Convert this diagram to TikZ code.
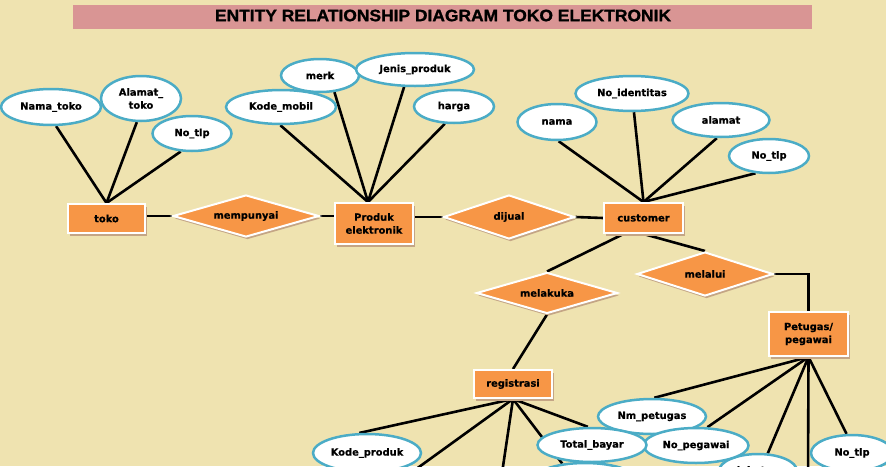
\documentclass[tikz,border=0pt]{standalone}
\usepackage{fontspec}
\setmainfont{DejaVu Sans}[BoldFeatures={FakeBold=0.6}]
\newfontfamily\titlefont{Liberation Sans}[BoldFeatures={FakeBold=1.2}]
\usetikzlibrary{shapes.geometric,shadows,backgrounds}
\definecolor{bgc}{HTML}{EFE3B0}
\definecolor{titlec}{HTML}{D99594}
\definecolor{orangec}{HTML}{F79646}
\definecolor{bluec}{HTML}{4BACC6}
\definecolor{shadc}{HTML}{C4A585}
\begin{document}
\begin{tikzpicture}[x=1pt,y=-1pt,
  lbl/.style={font=\fontsize{9.9pt}{13pt}\selectfont\bfseries, text=black, align=center},
  attr/.style={lbl, ellipse, draw=bluec, line width=2.5pt, fill=white, inner sep=0pt},
  ent/.style={lbl, rectangle, draw=white, line width=2pt, fill=orangec, inner sep=0pt,
    general shadow={fill=shadc, shadow xshift=1.5pt, shadow yshift=-2.5pt}},
  rel/.style={lbl, diamond, aspect=3, draw=white, line width=2pt, fill=orangec, inner sep=0pt,
    general shadow={fill=shadc, shadow xshift=1.5pt, shadow yshift=-2.5pt}},
  conn/.style={draw=black, line width=2.6pt}]
\useasboundingbox (0,0) rectangle (886,466);

% title
\node[fill=titlec, minimum width=739pt, minimum height=24pt, inner sep=0pt] (titlebar) at (442.5,17) {};
\node[inner sep=0pt] (title) at (443,15.5) {\resizebox{456pt}{11.5pt}{\titlefont\bfseries ENTITY RELATIONSHIP DIAGRAM TOKO ELEKTRONIK}};

% entities
\node[ent, minimum width=77pt, minimum height=29pt] (toko) at (106.5,218.5) {toko};
\node[ent, minimum width=78pt, minimum height=41pt] (produk) at (374,223.5) {Produk\\elektronik};
\node[ent, minimum width=79pt, minimum height=30pt] (customer) at (643.5,218) {customer};
\node[ent, minimum width=78pt, minimum height=28pt] (registrasi) at (513,384) {registrasi};
\node[ent, minimum width=79pt, minimum height=44pt] (petugas) at (808.5,334) {Petugas/\\pegawai};

% relationships
\node[rel, minimum width=146pt, minimum height=42pt] (mempunyai) at (246,216) {mempunyai};
\node[rel, minimum width=131pt, minimum height=44pt] (dijual) at (509,217) {dijual};
\node[rel, minimum width=136pt, minimum height=44pt] (melalui) at (705,274) {melalui};
\node[rel, minimum width=141pt, minimum height=41pt] (melakuka) at (547,293) {melakuka};

% attributes
\node[attr, minimum width=100pt, minimum height=36pt] (namatoko) at (51,107) {Nama\_toko};
\node[attr, minimum width=80pt, minimum height=45pt] (alamattoko) at (141,98.5) {Alamat\_\\toko};
\node[attr, minimum width=79pt, minimum height=35pt] (notlpa) at (192,133.5) {No\_tlp};
\node[attr, minimum width=78pt, minimum height=33pt] (merk) at (320,75.5) {merk};
\node[attr, minimum width=118pt, minimum height=33pt] (jenis) at (415,69.5) {Jenis\_produk};
\node[attr, minimum width=110pt, minimum height=34pt] (kodemobil) at (281,107) {Kode\_mobil};
\node[attr, minimum width=80pt, minimum height=33pt] (harga) at (454,106.5) {harga};
\node[attr, minimum width=79pt, minimum height=36pt] (nama) at (557,122) {nama};
\node[attr, minimum width=113pt, minimum height=35pt] (noid) at (632,93.5) {No\_identitas};
\node[attr, minimum width=97pt, minimum height=34pt] (alamat) at (721,120) {alamat};
\node[attr, minimum width=80pt, minimum height=34pt] (notlpb) at (769,156) {No\_tlp};
\node[attr, minimum width=108pt, minimum height=38pt] (kodeproduk) at (367,453) {Kode\_produk};
\node[attr, minimum width=78pt, minimum height=34pt] (jabatan) at (758,471) {jabatan};
\node[attr, minimum width=108pt, minimum height=35pt] (nmpetugas) at (652,416.5) {Nm\_petugas};
\node[attr, minimum width=105pt, minimum height=35pt] (nopegawai) at (696,445.5) {No\_pegawai};
\node[attr, minimum width=108pt, minimum height=38pt] (hidden) at (585,482) {};
\node[attr, minimum width=109pt, minimum height=34pt] (totalbayar) at (592,445) {Total\_bayar};
\node[attr, minimum width=82pt, minimum height=36pt] (notlpc) at (852,453) {No\_tlp};

\coordinate (ra) at (401,480);
\coordinate (rb) at (501,480);
\coordinate (pv) at (808,480);

\begin{scope}[on background layer]
\fill[bgc] (0,0) rectangle (886,466);
% toko
\draw[conn] (toko.north) -- (namatoko.285);
\draw[conn] (toko.north) -- (alamattoko.260);
\draw[conn] (toko.north) -- (notlpa.238);
\draw[conn] (mempunyai.west -| toko.east) -- (mempunyai.west);
\draw[conn] (mempunyai.east) -- (mempunyai.east -| produk.west);
% produk
\draw[conn] ([xshift=-6pt]produk.north) -- (kodemobil.268);
\draw[conn] ([xshift=-6pt]produk.north) -- (merk.311);
\draw[conn] ([xshift=-6pt]produk.north) -- (jenis.238);
\draw[conn] ([xshift=-6pt]produk.north) -- (harga.242);
\draw[conn] (dijual.west -| produk.east) -- (dijual.west);
\draw[conn] (dijual.east) -- (customer.west);
% customer
\draw[conn] (customer.north) -- (nama.275);
\draw[conn] (customer.north) -- (noid.276);
\draw[conn] (customer.north) -- (alamat.257);
\draw[conn] (customer.north) -- (notlpb.232);
\draw[conn] ([xshift=-20pt]customer.south) -- (melakuka.north);
\draw[conn] (customer.south) -- (melalui.north);
\draw[conn] (melalui.east) -| (petugas.north);
\draw[conn] (melakuka.south) -- (registrasi.north);
% petugas
\draw[conn] (petugas.south) -- (nmpetugas.83);
\draw[conn] (petugas.south) -- (nopegawai.58);
\draw[conn] (petugas.south) -- (jabatan.61);
\draw[conn] (petugas.south) -- (pv);
\draw[conn] (petugas.south) -- (notlpc.106);
% registrasi
\draw[conn] (registrasi.south) -- (kodeproduk.111);
\draw[conn] (registrasi.south) -- (ra);
\draw[conn] (registrasi.south) -- (rb);
\draw[conn] (registrasi.south) -- (hidden.141);
\draw[conn] (registrasi.south) -- (totalbayar.103);
\end{scope}
\end{tikzpicture}
\end{document}
